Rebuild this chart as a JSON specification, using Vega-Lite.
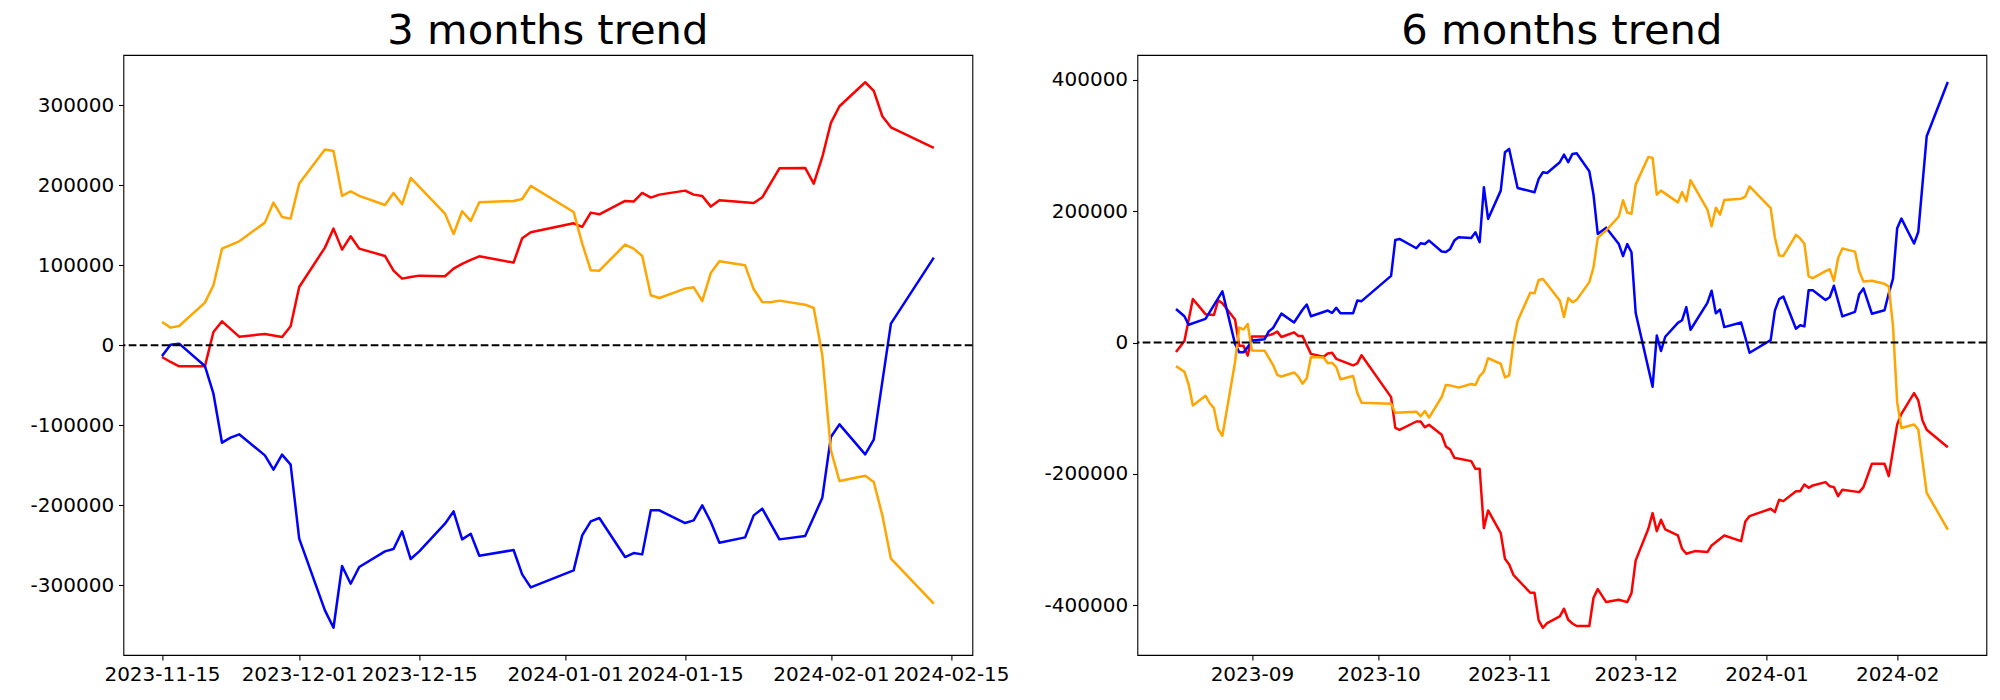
{
  "$schema": "https://vega.github.io/schema/vega-lite/v6.json",
  "background": "white",
  "padding": {"left": 29.4, "top": 10, "right": 0, "bottom": 0},
  "bounds": "flush",
  "spacing": 165,
  "config": {
    "font": "DejaVu Sans",
    "view": {"stroke": "black", "strokeWidth": 1.1},
    "axis": {"domain": false, "grid": false, "ticks": true, "tickColor": "black", "tickSize": 4.9, "tickWidth": 1.1, "labelColor": "black", "labelFont": "DejaVu Sans", "labelFontSize": 20, "labelPadding": 4.9, "title": null, "labelOverlap": false, "labelFlush": false, "labelBound": false},
    "title": {"font": "DejaVu Sans", "fontSize": 41.7, "fontWeight": "normal", "color": "black", "frame": "group", "anchor": "middle", "baseline": "alphabetic", "offset": 2}
  },
  "datasets": {
    "m3": [
      {"date": "2023-11-15", "series": "r", "value": -14583},
      {"date": "2023-11-16", "series": "r", "value": -20833},
      {"date": "2023-11-17", "series": "r", "value": -26250},
      {"date": "2023-11-20", "series": "r", "value": -26250},
      {"date": "2023-11-21", "series": "r", "value": 16667},
      {"date": "2023-11-22", "series": "r", "value": 30000},
      {"date": "2023-11-24", "series": "r", "value": 10833},
      {"date": "2023-11-27", "series": "r", "value": 14167},
      {"date": "2023-11-29", "series": "r", "value": 10417},
      {"date": "2023-11-30", "series": "r", "value": 23750},
      {"date": "2023-12-01", "series": "r", "value": 72917},
      {"date": "2023-12-04", "series": "r", "value": 122083},
      {"date": "2023-12-05", "series": "r", "value": 145833},
      {"date": "2023-12-06", "series": "r", "value": 119583},
      {"date": "2023-12-07", "series": "r", "value": 136250},
      {"date": "2023-12-08", "series": "r", "value": 120833},
      {"date": "2023-12-11", "series": "r", "value": 111667},
      {"date": "2023-12-12", "series": "r", "value": 93333},
      {"date": "2023-12-13", "series": "r", "value": 83333},
      {"date": "2023-12-14", "series": "r", "value": 85417},
      {"date": "2023-12-15", "series": "r", "value": 87083},
      {"date": "2023-12-18", "series": "r", "value": 86250},
      {"date": "2023-12-19", "series": "r", "value": 95833},
      {"date": "2023-12-20", "series": "r", "value": 101667},
      {"date": "2023-12-21", "series": "r", "value": 106667},
      {"date": "2023-12-22", "series": "r", "value": 111250},
      {"date": "2023-12-26", "series": "r", "value": 103333},
      {"date": "2023-12-27", "series": "r", "value": 133750},
      {"date": "2023-12-28", "series": "r", "value": 141250},
      {"date": "2024-01-02", "series": "r", "value": 152500},
      {"date": "2024-01-03", "series": "r", "value": 147917},
      {"date": "2024-01-04", "series": "r", "value": 165833},
      {"date": "2024-01-05", "series": "r", "value": 163750},
      {"date": "2024-01-08", "series": "r", "value": 180417},
      {"date": "2024-01-09", "series": "r", "value": 179583},
      {"date": "2024-01-10", "series": "r", "value": 190417},
      {"date": "2024-01-11", "series": "r", "value": 184583},
      {"date": "2024-01-12", "series": "r", "value": 188333},
      {"date": "2024-01-15", "series": "r", "value": 193333},
      {"date": "2024-01-16", "series": "r", "value": 188333},
      {"date": "2024-01-17", "series": "r", "value": 186667},
      {"date": "2024-01-18", "series": "r", "value": 173333},
      {"date": "2024-01-19", "series": "r", "value": 181250},
      {"date": "2024-01-23", "series": "r", "value": 177917},
      {"date": "2024-01-24", "series": "r", "value": 185000},
      {"date": "2024-01-26", "series": "r", "value": 221250},
      {"date": "2024-01-29", "series": "r", "value": 221667},
      {"date": "2024-01-30", "series": "r", "value": 202083},
      {"date": "2024-01-31", "series": "r", "value": 235417},
      {"date": "2024-02-01", "series": "r", "value": 277917},
      {"date": "2024-02-02", "series": "r", "value": 298750},
      {"date": "2024-02-05", "series": "r", "value": 328750},
      {"date": "2024-02-06", "series": "r", "value": 317917},
      {"date": "2024-02-07", "series": "r", "value": 286250},
      {"date": "2024-02-08", "series": "r", "value": 272500},
      {"date": "2024-02-13", "series": "r", "value": 246667},
      {"date": "2023-11-15", "series": "b", "value": -13333},
      {"date": "2023-11-16", "series": "b", "value": 833},
      {"date": "2023-11-17", "series": "b", "value": 2083},
      {"date": "2023-11-20", "series": "b", "value": -25833},
      {"date": "2023-11-21", "series": "b", "value": -60417},
      {"date": "2023-11-22", "series": "b", "value": -121667},
      {"date": "2023-11-23", "series": "b", "value": -115417},
      {"date": "2023-11-24", "series": "b", "value": -111250},
      {"date": "2023-11-27", "series": "b", "value": -137500},
      {"date": "2023-11-28", "series": "b", "value": -155417},
      {"date": "2023-11-29", "series": "b", "value": -136667},
      {"date": "2023-11-30", "series": "b", "value": -149167},
      {"date": "2023-12-01", "series": "b", "value": -241667},
      {"date": "2023-12-04", "series": "b", "value": -331250},
      {"date": "2023-12-05", "series": "b", "value": -352917},
      {"date": "2023-12-06", "series": "b", "value": -275833},
      {"date": "2023-12-07", "series": "b", "value": -297917},
      {"date": "2023-12-08", "series": "b", "value": -277083},
      {"date": "2023-12-11", "series": "b", "value": -257500},
      {"date": "2023-12-12", "series": "b", "value": -254583},
      {"date": "2023-12-13", "series": "b", "value": -232500},
      {"date": "2023-12-14", "series": "b", "value": -267083},
      {"date": "2023-12-15", "series": "b", "value": -257500},
      {"date": "2023-12-18", "series": "b", "value": -222917},
      {"date": "2023-12-19", "series": "b", "value": -207500},
      {"date": "2023-12-20", "series": "b", "value": -242500},
      {"date": "2023-12-21", "series": "b", "value": -235417},
      {"date": "2023-12-22", "series": "b", "value": -262917},
      {"date": "2023-12-26", "series": "b", "value": -255833},
      {"date": "2023-12-27", "series": "b", "value": -286250},
      {"date": "2023-12-28", "series": "b", "value": -302500},
      {"date": "2024-01-02", "series": "b", "value": -281250},
      {"date": "2024-01-03", "series": "b", "value": -237500},
      {"date": "2024-01-04", "series": "b", "value": -220000},
      {"date": "2024-01-05", "series": "b", "value": -215833},
      {"date": "2024-01-08", "series": "b", "value": -264583},
      {"date": "2024-01-09", "series": "b", "value": -259583},
      {"date": "2024-01-10", "series": "b", "value": -261250},
      {"date": "2024-01-11", "series": "b", "value": -206250},
      {"date": "2024-01-12", "series": "b", "value": -206250},
      {"date": "2024-01-15", "series": "b", "value": -222083},
      {"date": "2024-01-16", "series": "b", "value": -218750},
      {"date": "2024-01-17", "series": "b", "value": -200000},
      {"date": "2024-01-18", "series": "b", "value": -220833},
      {"date": "2024-01-19", "series": "b", "value": -246667},
      {"date": "2024-01-22", "series": "b", "value": -240000},
      {"date": "2024-01-23", "series": "b", "value": -212500},
      {"date": "2024-01-24", "series": "b", "value": -204167},
      {"date": "2024-01-26", "series": "b", "value": -242500},
      {"date": "2024-01-29", "series": "b", "value": -238333},
      {"date": "2024-01-30", "series": "b", "value": -214583},
      {"date": "2024-01-31", "series": "b", "value": -190417},
      {"date": "2024-02-01", "series": "b", "value": -114583},
      {"date": "2024-02-02", "series": "b", "value": -98750},
      {"date": "2024-02-05", "series": "b", "value": -136250},
      {"date": "2024-02-06", "series": "b", "value": -117917},
      {"date": "2024-02-08", "series": "b", "value": 27083},
      {"date": "2024-02-13", "series": "b", "value": 109583},
      {"date": "2023-11-15", "series": "o", "value": 29167},
      {"date": "2023-11-16", "series": "o", "value": 22083},
      {"date": "2023-11-17", "series": "o", "value": 24167},
      {"date": "2023-11-20", "series": "o", "value": 53333},
      {"date": "2023-11-21", "series": "o", "value": 75000},
      {"date": "2023-11-22", "series": "o", "value": 120833},
      {"date": "2023-11-24", "series": "o", "value": 130000},
      {"date": "2023-11-27", "series": "o", "value": 153333},
      {"date": "2023-11-28", "series": "o", "value": 178333},
      {"date": "2023-11-29", "series": "o", "value": 160417},
      {"date": "2023-11-30", "series": "o", "value": 158333},
      {"date": "2023-12-01", "series": "o", "value": 202083},
      {"date": "2023-12-04", "series": "o", "value": 244583},
      {"date": "2023-12-05", "series": "o", "value": 242917},
      {"date": "2023-12-06", "series": "o", "value": 186667},
      {"date": "2023-12-07", "series": "o", "value": 192500},
      {"date": "2023-12-08", "series": "o", "value": 186667},
      {"date": "2023-12-11", "series": "o", "value": 175417},
      {"date": "2023-12-12", "series": "o", "value": 190417},
      {"date": "2023-12-13", "series": "o", "value": 176250},
      {"date": "2023-12-14", "series": "o", "value": 209167},
      {"date": "2023-12-18", "series": "o", "value": 164583},
      {"date": "2023-12-19", "series": "o", "value": 139167},
      {"date": "2023-12-20", "series": "o", "value": 167500},
      {"date": "2023-12-21", "series": "o", "value": 155417},
      {"date": "2023-12-22", "series": "o", "value": 178750},
      {"date": "2023-12-26", "series": "o", "value": 180417},
      {"date": "2023-12-27", "series": "o", "value": 182917},
      {"date": "2023-12-28", "series": "o", "value": 199167},
      {"date": "2024-01-02", "series": "o", "value": 166667},
      {"date": "2024-01-03", "series": "o", "value": 127083},
      {"date": "2024-01-04", "series": "o", "value": 93750},
      {"date": "2024-01-05", "series": "o", "value": 93333},
      {"date": "2024-01-08", "series": "o", "value": 125833},
      {"date": "2024-01-09", "series": "o", "value": 120833},
      {"date": "2024-01-10", "series": "o", "value": 111667},
      {"date": "2024-01-11", "series": "o", "value": 62500},
      {"date": "2024-01-12", "series": "o", "value": 59167},
      {"date": "2024-01-15", "series": "o", "value": 70833},
      {"date": "2024-01-16", "series": "o", "value": 72500},
      {"date": "2024-01-17", "series": "o", "value": 55417},
      {"date": "2024-01-18", "series": "o", "value": 90417},
      {"date": "2024-01-19", "series": "o", "value": 105000},
      {"date": "2024-01-22", "series": "o", "value": 100000},
      {"date": "2024-01-23", "series": "o", "value": 70000},
      {"date": "2024-01-24", "series": "o", "value": 54167},
      {"date": "2024-01-25", "series": "o", "value": 53750},
      {"date": "2024-01-26", "series": "o", "value": 55833},
      {"date": "2024-01-29", "series": "o", "value": 50833},
      {"date": "2024-01-30", "series": "o", "value": 46667},
      {"date": "2024-01-31", "series": "o", "value": -12500},
      {"date": "2024-02-01", "series": "o", "value": -131250},
      {"date": "2024-02-02", "series": "o", "value": -169583},
      {"date": "2024-02-05", "series": "o", "value": -162917},
      {"date": "2024-02-06", "series": "o", "value": -170833},
      {"date": "2024-02-07", "series": "o", "value": -212500},
      {"date": "2024-02-08", "series": "o", "value": -266667},
      {"date": "2024-02-13", "series": "o", "value": -322917}
    ],
    "m6": [
      {"date": "2023-08-14", "series": "r", "value": -14500},
      {"date": "2023-08-16", "series": "r", "value": 2500},
      {"date": "2023-08-18", "series": "r", "value": 66300},
      {"date": "2023-08-21", "series": "r", "value": 43200},
      {"date": "2023-08-23", "series": "r", "value": 42000},
      {"date": "2023-08-24", "series": "r", "value": 64400},
      {"date": "2023-08-25", "series": "r", "value": 59900},
      {"date": "2023-08-28", "series": "r", "value": 35100},
      {"date": "2023-08-29", "series": "r", "value": -5000},
      {"date": "2023-08-30", "series": "r", "value": -5000},
      {"date": "2023-08-31", "series": "r", "value": -19900},
      {"date": "2023-09-01", "series": "r", "value": 9000},
      {"date": "2023-09-04", "series": "r", "value": 9000},
      {"date": "2023-09-06", "series": "r", "value": 13000},
      {"date": "2023-09-07", "series": "r", "value": 16600},
      {"date": "2023-09-08", "series": "r", "value": 8400},
      {"date": "2023-09-11", "series": "r", "value": 15500},
      {"date": "2023-09-12", "series": "r", "value": 10000},
      {"date": "2023-09-13", "series": "r", "value": 10000},
      {"date": "2023-09-15", "series": "r", "value": -17300},
      {"date": "2023-09-18", "series": "r", "value": -21600},
      {"date": "2023-09-19", "series": "r", "value": -16700},
      {"date": "2023-09-20", "series": "r", "value": -15700},
      {"date": "2023-09-21", "series": "r", "value": -24800},
      {"date": "2023-09-25", "series": "r", "value": -34700},
      {"date": "2023-09-26", "series": "r", "value": -31700},
      {"date": "2023-09-27", "series": "r", "value": -19300},
      {"date": "2023-10-04", "series": "r", "value": -83200},
      {"date": "2023-10-05", "series": "r", "value": -129900},
      {"date": "2023-10-06", "series": "r", "value": -133000},
      {"date": "2023-10-10", "series": "r", "value": -120300},
      {"date": "2023-10-11", "series": "r", "value": -120300},
      {"date": "2023-10-12", "series": "r", "value": -128900},
      {"date": "2023-10-13", "series": "r", "value": -125400},
      {"date": "2023-10-16", "series": "r", "value": -140600},
      {"date": "2023-10-17", "series": "r", "value": -158400},
      {"date": "2023-10-18", "series": "r", "value": -162900},
      {"date": "2023-10-19", "series": "r", "value": -175600},
      {"date": "2023-10-23", "series": "r", "value": -180700},
      {"date": "2023-10-24", "series": "r", "value": -192400},
      {"date": "2023-10-25", "series": "r", "value": -192400},
      {"date": "2023-10-26", "series": "r", "value": -282700},
      {"date": "2023-10-27", "series": "r", "value": -255800},
      {"date": "2023-10-30", "series": "r", "value": -290300},
      {"date": "2023-10-31", "series": "r", "value": -329400},
      {"date": "2023-11-01", "series": "r", "value": -338000},
      {"date": "2023-11-02", "series": "r", "value": -353800},
      {"date": "2023-11-06", "series": "r", "value": -381200},
      {"date": "2023-11-07", "series": "r", "value": -381200},
      {"date": "2023-11-08", "series": "r", "value": -423300},
      {"date": "2023-11-09", "series": "r", "value": -434500},
      {"date": "2023-11-10", "series": "r", "value": -427400},
      {"date": "2023-11-13", "series": "r", "value": -417200},
      {"date": "2023-11-14", "series": "r", "value": -405500},
      {"date": "2023-11-15", "series": "r", "value": -422300},
      {"date": "2023-11-16", "series": "r", "value": -428000},
      {"date": "2023-11-17", "series": "r", "value": -431900},
      {"date": "2023-11-20", "series": "r", "value": -431900},
      {"date": "2023-11-21", "series": "r", "value": -388800},
      {"date": "2023-11-22", "series": "r", "value": -375600},
      {"date": "2023-11-24", "series": "r", "value": -395400},
      {"date": "2023-11-27", "series": "r", "value": -391800},
      {"date": "2023-11-29", "series": "r", "value": -395400},
      {"date": "2023-11-30", "series": "r", "value": -381700},
      {"date": "2023-12-01", "series": "r", "value": -331900},
      {"date": "2023-12-04", "series": "r", "value": -283700},
      {"date": "2023-12-05", "series": "r", "value": -259900},
      {"date": "2023-12-06", "series": "r", "value": -287300},
      {"date": "2023-12-07", "series": "r", "value": -270000},
      {"date": "2023-12-08", "series": "r", "value": -284700},
      {"date": "2023-12-11", "series": "r", "value": -293900},
      {"date": "2023-12-12", "series": "r", "value": -314200},
      {"date": "2023-12-13", "series": "r", "value": -321800},
      {"date": "2023-12-15", "series": "r", "value": -317700},
      {"date": "2023-12-18", "series": "r", "value": -319200},
      {"date": "2023-12-19", "series": "r", "value": -309100},
      {"date": "2023-12-22", "series": "r", "value": -293900},
      {"date": "2023-12-26", "series": "r", "value": -302500},
      {"date": "2023-12-27", "series": "r", "value": -272600},
      {"date": "2023-12-28", "series": "r", "value": -264400},
      {"date": "2024-01-02", "series": "r", "value": -253300},
      {"date": "2024-01-03", "series": "r", "value": -258300},
      {"date": "2024-01-04", "series": "r", "value": -239600},
      {"date": "2024-01-05", "series": "r", "value": -241600},
      {"date": "2024-01-08", "series": "r", "value": -226400},
      {"date": "2024-01-09", "series": "r", "value": -226400},
      {"date": "2024-01-10", "series": "r", "value": -216200},
      {"date": "2024-01-11", "series": "r", "value": -221300},
      {"date": "2024-01-12", "series": "r", "value": -217700},
      {"date": "2024-01-15", "series": "r", "value": -212700},
      {"date": "2024-01-16", "series": "r", "value": -218800},
      {"date": "2024-01-17", "series": "r", "value": -220300},
      {"date": "2024-01-18", "series": "r", "value": -234000},
      {"date": "2024-01-19", "series": "r", "value": -224300},
      {"date": "2024-01-23", "series": "r", "value": -227900},
      {"date": "2024-01-24", "series": "r", "value": -220300},
      {"date": "2024-01-26", "series": "r", "value": -184700},
      {"date": "2024-01-29", "series": "r", "value": -184700},
      {"date": "2024-01-30", "series": "r", "value": -203500},
      {"date": "2024-01-31", "series": "r", "value": -164400},
      {"date": "2024-02-01", "series": "r", "value": -124900},
      {"date": "2024-02-02", "series": "r", "value": -108600},
      {"date": "2024-02-05", "series": "r", "value": -77100},
      {"date": "2024-02-06", "series": "r", "value": -88300},
      {"date": "2024-02-07", "series": "r", "value": -118800},
      {"date": "2024-02-08", "series": "r", "value": -133000},
      {"date": "2024-02-13", "series": "r", "value": -159400},
      {"date": "2023-08-14", "series": "b", "value": 51000},
      {"date": "2023-08-16", "series": "b", "value": 40000},
      {"date": "2023-08-17", "series": "b", "value": 27000},
      {"date": "2023-08-21", "series": "b", "value": 36000},
      {"date": "2023-08-25", "series": "b", "value": 78000},
      {"date": "2023-08-28", "series": "b", "value": -2000},
      {"date": "2023-08-29", "series": "b", "value": -15000},
      {"date": "2023-08-30", "series": "b", "value": -15000},
      {"date": "2023-08-31", "series": "b", "value": -7000},
      {"date": "2023-09-01", "series": "b", "value": 3000},
      {"date": "2023-09-04", "series": "b", "value": 5000},
      {"date": "2023-09-05", "series": "b", "value": 17000},
      {"date": "2023-09-06", "series": "b", "value": 22000},
      {"date": "2023-09-08", "series": "b", "value": 44000},
      {"date": "2023-09-11", "series": "b", "value": 30500},
      {"date": "2023-09-13", "series": "b", "value": 50000},
      {"date": "2023-09-14", "series": "b", "value": 58000},
      {"date": "2023-09-15", "series": "b", "value": 40000},
      {"date": "2023-09-19", "series": "b", "value": 48700},
      {"date": "2023-09-20", "series": "b", "value": 45000},
      {"date": "2023-09-21", "series": "b", "value": 52800},
      {"date": "2023-09-22", "series": "b", "value": 44700},
      {"date": "2023-09-25", "series": "b", "value": 44700},
      {"date": "2023-09-26", "series": "b", "value": 64000},
      {"date": "2023-09-27", "series": "b", "value": 63000},
      {"date": "2023-10-04", "series": "b", "value": 101500},
      {"date": "2023-10-05", "series": "b", "value": 156300},
      {"date": "2023-10-06", "series": "b", "value": 157800},
      {"date": "2023-10-10", "series": "b", "value": 143600},
      {"date": "2023-10-11", "series": "b", "value": 151200},
      {"date": "2023-10-12", "series": "b", "value": 150200},
      {"date": "2023-10-13", "series": "b", "value": 155300},
      {"date": "2023-10-16", "series": "b", "value": 138600},
      {"date": "2023-10-17", "series": "b", "value": 138000},
      {"date": "2023-10-18", "series": "b", "value": 142600},
      {"date": "2023-10-19", "series": "b", "value": 155300},
      {"date": "2023-10-20", "series": "b", "value": 160400},
      {"date": "2023-10-23", "series": "b", "value": 159400},
      {"date": "2023-10-24", "series": "b", "value": 168000},
      {"date": "2023-10-25", "series": "b", "value": 152800},
      {"date": "2023-10-26", "series": "b", "value": 236500},
      {"date": "2023-10-27", "series": "b", "value": 188300},
      {"date": "2023-10-30", "series": "b", "value": 231400},
      {"date": "2023-10-31", "series": "b", "value": 289800},
      {"date": "2023-11-01", "series": "b", "value": 294900},
      {"date": "2023-11-03", "series": "b", "value": 235500},
      {"date": "2023-11-07", "series": "b", "value": 228900},
      {"date": "2023-11-08", "series": "b", "value": 249200},
      {"date": "2023-11-09", "series": "b", "value": 259400},
      {"date": "2023-11-10", "series": "b", "value": 258300},
      {"date": "2023-11-13", "series": "b", "value": 274600},
      {"date": "2023-11-14", "series": "b", "value": 286300},
      {"date": "2023-11-15", "series": "b", "value": 274600},
      {"date": "2023-11-16", "series": "b", "value": 287300},
      {"date": "2023-11-17", "series": "b", "value": 288300},
      {"date": "2023-11-20", "series": "b", "value": 260900},
      {"date": "2023-11-21", "series": "b", "value": 225000},
      {"date": "2023-11-22", "series": "b", "value": 165400},
      {"date": "2023-11-24", "series": "b", "value": 175000},
      {"date": "2023-11-27", "series": "b", "value": 150000},
      {"date": "2023-11-28", "series": "b", "value": 131800},
      {"date": "2023-11-29", "series": "b", "value": 150000},
      {"date": "2023-11-30", "series": "b", "value": 137500},
      {"date": "2023-12-01", "series": "b", "value": 45000},
      {"date": "2023-12-05", "series": "b", "value": -67500},
      {"date": "2023-12-06", "series": "b", "value": 10600},
      {"date": "2023-12-07", "series": "b", "value": -12900},
      {"date": "2023-12-08", "series": "b", "value": 8800},
      {"date": "2023-12-11", "series": "b", "value": 29900},
      {"date": "2023-12-12", "series": "b", "value": 34000},
      {"date": "2023-12-13", "series": "b", "value": 53900},
      {"date": "2023-12-14", "series": "b", "value": 19500},
      {"date": "2023-12-18", "series": "b", "value": 60400},
      {"date": "2023-12-19", "series": "b", "value": 79000},
      {"date": "2023-12-20", "series": "b", "value": 44500},
      {"date": "2023-12-21", "series": "b", "value": 50300},
      {"date": "2023-12-22", "series": "b", "value": 23500},
      {"date": "2023-12-26", "series": "b", "value": 30500},
      {"date": "2023-12-28", "series": "b", "value": -15600},
      {"date": "2024-01-02", "series": "b", "value": 3600},
      {"date": "2024-01-03", "series": "b", "value": 48600},
      {"date": "2024-01-04", "series": "b", "value": 66100},
      {"date": "2024-01-05", "series": "b", "value": 70200},
      {"date": "2024-01-08", "series": "b", "value": 21100},
      {"date": "2024-01-09", "series": "b", "value": 26400},
      {"date": "2024-01-10", "series": "b", "value": 24600},
      {"date": "2024-01-11", "series": "b", "value": 79500},
      {"date": "2024-01-12", "series": "b", "value": 79500},
      {"date": "2024-01-15", "series": "b", "value": 64900},
      {"date": "2024-01-16", "series": "b", "value": 69000},
      {"date": "2024-01-17", "series": "b", "value": 86500},
      {"date": "2024-01-19", "series": "b", "value": 39800},
      {"date": "2024-01-22", "series": "b", "value": 46800},
      {"date": "2024-01-23", "series": "b", "value": 73700},
      {"date": "2024-01-24", "series": "b", "value": 82400},
      {"date": "2024-01-26", "series": "b", "value": 43900},
      {"date": "2024-01-29", "series": "b", "value": 49200},
      {"date": "2024-01-30", "series": "b", "value": 74800},
      {"date": "2024-01-31", "series": "b", "value": 97100},
      {"date": "2024-02-01", "series": "b", "value": 174200},
      {"date": "2024-02-02", "series": "b", "value": 188800},
      {"date": "2024-02-05", "series": "b", "value": 150800},
      {"date": "2024-02-06", "series": "b", "value": 168300},
      {"date": "2024-02-08", "series": "b", "value": 314300},
      {"date": "2024-02-13", "series": "b", "value": 396800},
      {"date": "2023-08-14", "series": "o", "value": -36000},
      {"date": "2023-08-16", "series": "o", "value": -44500},
      {"date": "2023-08-17", "series": "o", "value": -64000},
      {"date": "2023-08-18", "series": "o", "value": -96000},
      {"date": "2023-08-21", "series": "o", "value": -81000},
      {"date": "2023-08-22", "series": "o", "value": -92500},
      {"date": "2023-08-23", "series": "o", "value": -100000},
      {"date": "2023-08-24", "series": "o", "value": -132000},
      {"date": "2023-08-25", "series": "o", "value": -142000},
      {"date": "2023-08-28", "series": "o", "value": -30000},
      {"date": "2023-08-29", "series": "o", "value": 22800},
      {"date": "2023-08-30", "series": "o", "value": 20000},
      {"date": "2023-08-31", "series": "o", "value": 28300},
      {"date": "2023-09-01", "series": "o", "value": -12000},
      {"date": "2023-09-04", "series": "o", "value": -12400},
      {"date": "2023-09-06", "series": "o", "value": -34000},
      {"date": "2023-09-07", "series": "o", "value": -49200},
      {"date": "2023-09-08", "series": "o", "value": -51800},
      {"date": "2023-09-11", "series": "o", "value": -45600},
      {"date": "2023-09-12", "series": "o", "value": -51800},
      {"date": "2023-09-13", "series": "o", "value": -62700},
      {"date": "2023-09-14", "series": "o", "value": -54300},
      {"date": "2023-09-15", "series": "o", "value": -22000},
      {"date": "2023-09-18", "series": "o", "value": -22800},
      {"date": "2023-09-19", "series": "o", "value": -31700},
      {"date": "2023-09-20", "series": "o", "value": -30700},
      {"date": "2023-09-21", "series": "o", "value": -37400},
      {"date": "2023-09-22", "series": "o", "value": -55900},
      {"date": "2023-09-25", "series": "o", "value": -51000},
      {"date": "2023-09-26", "series": "o", "value": -77000},
      {"date": "2023-09-27", "series": "o", "value": -91800},
      {"date": "2023-10-04", "series": "o", "value": -93400},
      {"date": "2023-10-05", "series": "o", "value": -107000},
      {"date": "2023-10-10", "series": "o", "value": -105300},
      {"date": "2023-10-11", "series": "o", "value": -112200},
      {"date": "2023-10-12", "series": "o", "value": -104300},
      {"date": "2023-10-13", "series": "o", "value": -114300},
      {"date": "2023-10-16", "series": "o", "value": -83000},
      {"date": "2023-10-17", "series": "o", "value": -64600},
      {"date": "2023-10-18", "series": "o", "value": -65300},
      {"date": "2023-10-20", "series": "o", "value": -68700},
      {"date": "2023-10-23", "series": "o", "value": -63200},
      {"date": "2023-10-24", "series": "o", "value": -64600},
      {"date": "2023-10-25", "series": "o", "value": -51000},
      {"date": "2023-10-26", "series": "o", "value": -44500},
      {"date": "2023-10-27", "series": "o", "value": -23900},
      {"date": "2023-10-30", "series": "o", "value": -32300},
      {"date": "2023-10-31", "series": "o", "value": -53200},
      {"date": "2023-11-01", "series": "o", "value": -50000},
      {"date": "2023-11-02", "series": "o", "value": -300},
      {"date": "2023-11-03", "series": "o", "value": 32800},
      {"date": "2023-11-06", "series": "o", "value": 76000},
      {"date": "2023-11-07", "series": "o", "value": 74900},
      {"date": "2023-11-08", "series": "o", "value": 95400},
      {"date": "2023-11-09", "series": "o", "value": 96700},
      {"date": "2023-11-10", "series": "o", "value": 88800},
      {"date": "2023-11-13", "series": "o", "value": 64100},
      {"date": "2023-11-14", "series": "o", "value": 38800},
      {"date": "2023-11-15", "series": "o", "value": 67900},
      {"date": "2023-11-16", "series": "o", "value": 61400},
      {"date": "2023-11-17", "series": "o", "value": 65000},
      {"date": "2023-11-20", "series": "o", "value": 92000},
      {"date": "2023-11-21", "series": "o", "value": 114700},
      {"date": "2023-11-22", "series": "o", "value": 159500},
      {"date": "2023-11-24", "series": "o", "value": 170900},
      {"date": "2023-11-27", "series": "o", "value": 192000},
      {"date": "2023-11-28", "series": "o", "value": 216700},
      {"date": "2023-11-29", "series": "o", "value": 198000},
      {"date": "2023-11-30", "series": "o", "value": 196100},
      {"date": "2023-12-01", "series": "o", "value": 240900},
      {"date": "2023-12-04", "series": "o", "value": 282700},
      {"date": "2023-12-05", "series": "o", "value": 281300},
      {"date": "2023-12-06", "series": "o", "value": 225200},
      {"date": "2023-12-07", "series": "o", "value": 231400},
      {"date": "2023-12-11", "series": "o", "value": 213500},
      {"date": "2023-12-12", "series": "o", "value": 229200},
      {"date": "2023-12-13", "series": "o", "value": 215100},
      {"date": "2023-12-14", "series": "o", "value": 247400},
      {"date": "2023-12-18", "series": "o", "value": 202600},
      {"date": "2023-12-19", "series": "o", "value": 177100},
      {"date": "2023-12-20", "series": "o", "value": 205300},
      {"date": "2023-12-21", "series": "o", "value": 194800},
      {"date": "2023-12-22", "series": "o", "value": 217000},
      {"date": "2023-12-26", "series": "o", "value": 219200},
      {"date": "2023-12-27", "series": "o", "value": 222400},
      {"date": "2023-12-28", "series": "o", "value": 237700},
      {"date": "2024-01-02", "series": "o", "value": 204700},
      {"date": "2024-01-03", "series": "o", "value": 160000},
      {"date": "2024-01-04", "series": "o", "value": 132500},
      {"date": "2024-01-05", "series": "o", "value": 132000},
      {"date": "2024-01-08", "series": "o", "value": 164000},
      {"date": "2024-01-09", "series": "o", "value": 158600},
      {"date": "2024-01-10", "series": "o", "value": 150400},
      {"date": "2024-01-11", "series": "o", "value": 100800},
      {"date": "2024-01-12", "series": "o", "value": 98100},
      {"date": "2024-01-15", "series": "o", "value": 108800},
      {"date": "2024-01-16", "series": "o", "value": 111600},
      {"date": "2024-01-17", "series": "o", "value": 94000},
      {"date": "2024-01-18", "series": "o", "value": 128800},
      {"date": "2024-01-19", "series": "o", "value": 143400},
      {"date": "2024-01-22", "series": "o", "value": 138500},
      {"date": "2024-01-23", "series": "o", "value": 108400},
      {"date": "2024-01-24", "series": "o", "value": 92900},
      {"date": "2024-01-26", "series": "o", "value": 94000},
      {"date": "2024-01-29", "series": "o", "value": 89400},
      {"date": "2024-01-30", "series": "o", "value": 85400},
      {"date": "2024-01-31", "series": "o", "value": 25400},
      {"date": "2024-02-01", "series": "o", "value": -91200},
      {"date": "2024-02-02", "series": "o", "value": -130300},
      {"date": "2024-02-05", "series": "o", "value": -124900},
      {"date": "2024-02-06", "series": "o", "value": -132500},
      {"date": "2024-02-08", "series": "o", "value": -228900},
      {"date": "2024-02-13", "series": "o", "value": -285000}
    ]
  },
  "hconcat": [
    {
      "title": "3 months trend",
      "width": 849,
      "height": 600,
      "layer": [
        {
          "data": {"name": "m3"},
          "mark": {"type": "line", "strokeWidth": 2.5, "strokeJoin": "round"},
          "encoding": {
            "x": {"field": "date", "type": "temporal",
                  "scale": {"type": "utc", "nice": false, "domain": [{"year": 2023, "month": 11, "date": 10, "hours": 12, "utc": true}, {"year": 2024, "month": 2, "date": 17, "hours": 12, "utc": true}]},
                  "axis": {"labelExpr": "utcFormat(datum.value, '%Y-%m-%d')", "values": [
                    {"year": 2023, "month": 11, "date": 15, "utc": true},
                    {"year": 2023, "month": 12, "date": 1, "utc": true},
                    {"year": 2023, "month": 12, "date": 15, "utc": true},
                    {"year": 2024, "month": 1, "date": 1, "utc": true},
                    {"year": 2024, "month": 1, "date": 15, "utc": true},
                    {"year": 2024, "month": 2, "date": 1, "utc": true},
                    {"year": 2024, "month": 2, "date": 15, "utc": true}]}},
            "y": {"field": "value", "type": "quantitative",
                  "scale": {"domain": [-387000, 362800], "nice": false, "zero": false},
                  "axis": {"values": [-300000, -200000, -100000, 0, 100000, 200000, 300000], "labelExpr": "(datum.value < 0 ? '-' : '') + format(abs(datum.value), 'd')"}},
            "color": {"field": "series", "type": "nominal", "sort": null,
                      "scale": {"domain": ["r", "b", "o"], "range": ["#ff0000", "#0000ff", "#ffa500"]},
                      "legend": null}
          }
        },
        {
          "data": {"values": [{}]},
          "mark": {"type": "rule", "color": "black", "strokeWidth": 2.1, "strokeDash": [7.7, 3.3]},
          "encoding": {"y": {"datum": 0}}
        }
      ]
    },
    {
      "title": "6 months trend",
      "width": 849,
      "height": 600,
      "layer": [
        {
          "data": {"name": "m6"},
          "mark": {"type": "line", "strokeWidth": 2.5, "strokeJoin": "round"},
          "encoding": {
            "x": {"field": "date", "type": "temporal",
                  "scale": {"type": "utc", "nice": false, "domain": [{"year": 2023, "month": 8, "date": 4, "hours": 20, "minutes": 24, "utc": true}, {"year": 2024, "month": 2, "date": 22, "hours": 3, "minutes": 36, "utc": true}]},
                  "axis": {"labelExpr": "utcFormat(datum.value, '%Y-%m')", "values": [
                    {"year": 2023, "month": 9, "date": 1, "utc": true},
                    {"year": 2023, "month": 10, "date": 1, "utc": true},
                    {"year": 2023, "month": 11, "date": 1, "utc": true},
                    {"year": 2023, "month": 12, "date": 1, "utc": true},
                    {"year": 2024, "month": 1, "date": 1, "utc": true},
                    {"year": 2024, "month": 2, "date": 1, "utc": true}]}},
            "y": {"field": "value", "type": "quantitative",
                  "scale": {"domain": [-476000, 438000], "nice": false, "zero": false},
                  "axis": {"values": [-400000, -200000, 0, 200000, 400000], "labelExpr": "(datum.value < 0 ? '-' : '') + format(abs(datum.value), 'd')"}},
            "color": {"field": "series", "type": "nominal", "sort": null,
                      "scale": {"domain": ["r", "b", "o"], "range": ["#ff0000", "#0000ff", "#ffa500"]},
                      "legend": null}
          }
        },
        {
          "data": {"values": [{}]},
          "mark": {"type": "rule", "color": "black", "strokeWidth": 2.1, "strokeDash": [7.7, 3.3]},
          "encoding": {"y": {"datum": 0}}
        }
      ]
    }
  ]
}
